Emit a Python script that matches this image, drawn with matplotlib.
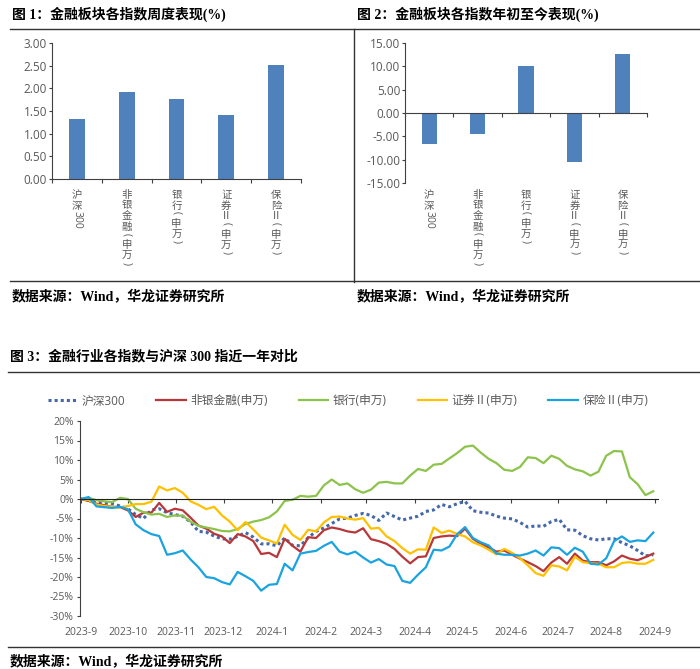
import re
import numpy as np
import pandas as pd
import matplotlib
matplotlib.use('Agg')
import matplotlib.pyplot as plt
import matplotlib.dates as mdates
from matplotlib.lines import Line2D
from matplotlib.ticker import FormatStrFormatter, FuncFormatter

plt.rcParams['font.family'] = ['Open Sans', 'Noto Sans CJK SC', 'DejaVu Sans']
plt.rcParams['axes.unicode_minus'] = False

# ---- data ----
categories = ['沪深300', '非银金融(申万)', '银行(申万)', '证券Ⅱ(申万)', '保险Ⅱ(申万)']
weekly_pct = [1.32, 1.92, 1.77, 1.41, 2.52]
ytd_pct = [-6.70, -4.60, 10.00, -10.60, 12.70]

month_labels = ['2023-9', '2023-10', '2023-11', '2023-12', '2024-1', '2024-2', '2024-3',
                '2024-4', '2024-5', '2024-6', '2024-7', '2024-8', '2024-9']

# sampled every 5 calendar days from 2023-09-01
dates = pd.date_range('2023-09-01', periods=74, freq='5D')

hs300 = [0.0, -0.3, -0.8, -1.0, -1.2, -1.8, -2.5, -4.0, -5.0, -2.8,
         -2.5, -3.5, -4.0, -4.4, -5.9, -8.3, -8.5, -9.5, -10.2, -10.3,
         -9.6, -8.6, -9.8, -11.5, -11.5, -12.0, -10.0, -11.9, -12.0, -9.9,
         -8.3, -7.4, -6.3, -5.1, -4.9, -4.2, -3.7, -4.2, -5.5, -3.6,
         -4.5, -5.4, -4.9, -4.4, -3.2, -2.8, -1.4, -2.0, -1.2, -0.6,
         -3.0, -3.4, -3.6, -4.4, -4.9, -5.1, -6.0, -7.2, -6.9, -7.0,
         -5.8, -5.2, -7.9, -8.0, -9.4, -10.2, -10.5, -10.2, -10.2, -11.2,
         -12.0, -13.2, -14.6, -14.3]
nonbank = [0.0, -0.5, -1.2, -1.6, -2.0, -2.1, -2.9, -4.6, -3.5, -3.5,
           -1.0, -3.3, -2.5, -2.9, -4.8, -6.8, -7.6, -8.9, -9.6, -11.3,
           -9.0, -9.6, -10.8, -14.1, -13.8, -14.9, -10.2, -12.0, -13.5, -9.8,
           -10.0, -8.0, -7.3, -7.7, -8.3, -8.6, -7.5, -10.3, -10.8, -11.5,
           -12.8, -14.8, -16.5, -14.9, -14.7, -10.0, -9.6, -9.4, -9.5, -7.6,
           -10.2, -11.5, -12.4, -13.5, -13.2, -14.3, -15.3, -16.2, -17.2, -18.5,
           -16.3, -14.9, -16.6, -14.0, -15.8, -16.2, -16.2, -17.0, -16.0, -14.5,
           -15.3, -15.7, -14.9, -14.0]
bank = [0.0, 0.3, -0.3, -0.6, -0.8, 0.3, 0.0, -2.5, -3.4, -4.0,
        -3.8, -4.6, -4.2, -4.3, -5.8, -6.9, -7.3, -7.7, -8.2, -8.3,
        -7.7, -6.4, -5.8, -5.4, -4.7, -3.2, -0.5, -0.2, 0.8, 0.6,
        0.8, 3.5, 5.0, 3.6, 4.0, 2.5, 1.6, 2.4, 4.2, 4.4,
        4.0, 4.0, 6.0, 7.7, 7.2, 8.8, 9.0, 10.4, 11.8, 13.4,
        13.7, 11.9, 10.3, 9.2, 7.5, 7.2, 8.2, 10.7, 10.5, 9.2,
        11.1, 10.3, 8.5, 7.6, 7.1, 6.0, 7.0, 11.1, 12.3, 12.2,
        5.6, 3.8, 1.0, 2.0]
broker = [0.0, -0.3, -1.4, -1.8, -2.0, -2.2, -1.8, -1.3, -1.3, -0.7,
          3.2, 2.2, 2.8, 1.6, -0.6, -1.5, -2.6, -2.0, -4.2, -5.8,
          -8.0, -5.9, -7.8, -9.9, -10.6, -11.4, -6.6, -9.2, -10.5, -7.9,
          -8.3, -6.0, -4.6, -4.5, -5.0, -5.3, -4.9, -7.6, -7.4, -9.6,
          -10.8, -12.6, -14.0, -12.9, -13.0, -7.3, -8.7, -8.1, -9.0, -9.6,
          -11.1, -11.9, -13.0, -14.2, -12.8, -13.8, -15.2, -17.0, -19.0, -19.7,
          -17.0, -17.3, -18.3, -14.8, -16.2, -16.5, -16.6, -17.5, -17.5, -16.4,
          -16.2, -16.6, -16.6, -15.6]
insurance = [0.0, 0.5, -1.9, -2.1, -2.3, -2.0, -2.6, -6.5, -8.0, -9.0,
             -9.5, -14.3, -13.9, -13.2, -15.5, -17.5, -20.0, -20.3, -21.3, -21.9,
             -18.7, -19.8, -21.0, -23.5, -22.0, -21.8, -16.6, -18.3, -14.0, -13.6,
             -13.3, -12.0, -11.0, -13.5, -14.2, -13.5, -15.0, -16.3, -15.4, -16.8,
             -17.2, -21.0, -21.5, -19.4, -17.5, -13.0, -13.2, -12.2, -9.0, -7.2,
             -10.0, -11.1, -11.9, -14.0, -14.3, -14.3, -14.5, -14.0, -13.2, -14.5,
             -12.4, -12.6, -14.3, -12.5, -13.5, -16.6, -16.8, -15.2, -10.8, -9.6,
             -11.0, -10.6, -10.8, -8.6]

GREY = '#595959'
AXC = '#404040'
BAR = '#4f81bd'
TITLE_FONT = dict(family=['Liberation Serif', 'Noto Sans CJK SC'], weight='bold', size=10)

fig = plt.figure(figsize=(7, 6.69), dpi=100)


def fx(px):
    return px / 700


def fy(py):
    return 1 - py / 669


def hline(y, x0, x1):
    fig.add_artist(Line2D([fx(x0), fx(x1)], [fy(y), fy(y)], color='#333333', lw=1.0))


def stack_label(ax, x, text, pad, fs=7.5):
    # Excel style vertical text: CJK upright, digits / brackets turned
    off = pad
    for tok in re.findall(r'[0-9]+|[()]|.', text):
        if tok.isdigit():
            rot, adv = -90, len(tok) * 0.6 * fs
        elif tok in '()':
            rot, adv = -90, 0.75 * fs
        else:
            rot, adv = 0, 1.02 * fs
        ax.annotate(tok, xy=(x, 0), xycoords=('data', 'axes fraction'),
                    xytext=(0, -off), textcoords='offset points',
                    ha='center', va='top', rotation=rot, fontsize=fs, color=GREY)
        off += adv


def style_bar_axes(ax):
    for s in ['top', 'right']:
        ax.spines[s].set_visible(False)
    for s in ['left', 'bottom']:
        ax.spines[s].set_color(AXC)
        ax.spines[s].set_linewidth(0.8)
    ax.set_xlim(-0.5, len(categories) - 0.5)
    ax.set_xticks(np.arange(-0.5, len(categories), 1))
    ax.tick_params(axis='x', length=3, color=AXC, labelbottom=False)
    ax.tick_params(axis='y', length=2, pad=1.5, color=AXC, labelsize=8.5, labelcolor=GREY)
    ax.yaxis.set_major_formatter(FormatStrFormatter('%.2f'))


# ---- figure 1 ----
ax1 = fig.add_axes([fx(52), fy(179), (301 - 52) / 700, (179 - 43) / 669])
xpos = np.arange(len(categories))
ax1.bar(xpos, weekly_pct, width=0.32, color=BAR)
ax1.set_ylim(0, 3)
ax1.set_yticks(np.arange(0, 3.01, 0.5))
style_bar_axes(ax1)
for i, c in enumerate(categories):
    stack_label(ax1, i, c, pad=8)

# ---- figure 2 ----
ax2 = fig.add_axes([fx(405), fy(183), (647 - 405) / 700, (183 - 43) / 669])
ax2.bar(xpos, ytd_pct, width=0.31, color=BAR)
ax2.set_ylim(-15, 15)
ax2.set_yticks(np.arange(-15, 15.01, 5))
style_bar_axes(ax2)
ax2.spines['bottom'].set_position(('data', 0))
for i, c in enumerate(categories):
    stack_label(ax2, i, c, pad=5)

fig.text(fx(12), fy(14), '图 1：金融板块各指数周度表现(%)', va='center', ha='left', **TITLE_FONT)
fig.text(fx(357), fy(14), '图 2：金融板块各指数年初至今表现(%)', va='center', ha='left', **TITLE_FONT)
fig.text(fx(12), fy(297), '数据来源：Wind，华龙证券研究所', va='center', ha='left', **TITLE_FONT)
fig.text(fx(357), fy(297), '数据来源：Wind，华龙证券研究所', va='center', ha='left', **TITLE_FONT)
hline(29, 10, 700)
hline(281, 10, 700)
fig.add_artist(Line2D([fx(354), fx(354)], [fy(29), fy(282)], color='#333333', lw=1.0))

# ---- figure 3 ----
ax3 = fig.add_axes([fx(80), fy(616), (658 - 80) / 700, (616 - 421) / 669])
xd = mdates.date2num(dates.to_pydatetime())
series = [
    (hs300, '沪深300', '#4468a8', dict(lw=2.2, linestyle=(0, (1.0, 1.0)))),
    (nonbank, '非银金融(申万)', '#b8373a', dict(lw=1.6)),
    (bank, '银行(申万)', '#8cc34b', dict(lw=1.6)),
    (broker, '证券Ⅱ(申万)', '#ffc000', dict(lw=1.6)),
    (insurance, '保险Ⅱ(申万)', '#1aa3e0', dict(lw=1.6)),
]
handles = []
for vals, name, col, kw in series:
    h, = ax3.plot(xd, vals, color=col, label=name, **kw)
    handles.append(h)

month_ticks = mdates.date2num(pd.to_datetime([m + '-1' for m in month_labels]).to_pydatetime())
ax3.set_xlim(mdates.date2num(pd.Timestamp('2023-08-31 12:00')),
             mdates.date2num(pd.Timestamp('2024-09-03')))
ax3.set_ylim(-30, 20)
ax3.set_yticks(np.arange(-30, 20.1, 5))
ax3.yaxis.set_major_formatter(FuncFormatter(lambda v, p: f'{v:.0f}%'))
for s in ['top', 'right']:
    ax3.spines[s].set_visible(False)
ax3.spines['left'].set_color(AXC)
ax3.spines['bottom'].set_color('#222222')
ax3.spines['bottom'].set_position(('data', 0))
ax3.set_xticks(month_ticks)
ax3.tick_params(axis='x', length=3, color=AXC, labelbottom=False)
ax3.tick_params(axis='y', length=2.5, pad=2, color=AXC, labelsize=7.5, labelcolor=GREY)
for t, lab in zip(month_ticks, month_labels):
    ax3.annotate(lab, xy=(t, 0), xycoords=('data', 'axes fraction'), xytext=(0, -8),
                 textcoords='offset points', ha='center', va='top', fontsize=7.5, color=GREY)

fig.legend(handles=handles, loc='center', bbox_to_anchor=(fx(348), fy(401)), ncol=5,
           frameon=False, handlelength=2.5, handletextpad=0.4, columnspacing=2.6,
           fontsize=8.5, labelcolor=GREY)

fig.text(fx(10), fy(356), '图 3：金融行业各指数与沪深 300 指近一年对比', va='center', ha='left', **TITLE_FONT)
hline(372, 8, 700)
hline(647, 8, 700)
fig.text(fx(10), fy(662), '数据来源：Wind，华龙证券研究所', va='center', ha='left', **TITLE_FONT)

fig.savefig('out.png', dpi=100)
